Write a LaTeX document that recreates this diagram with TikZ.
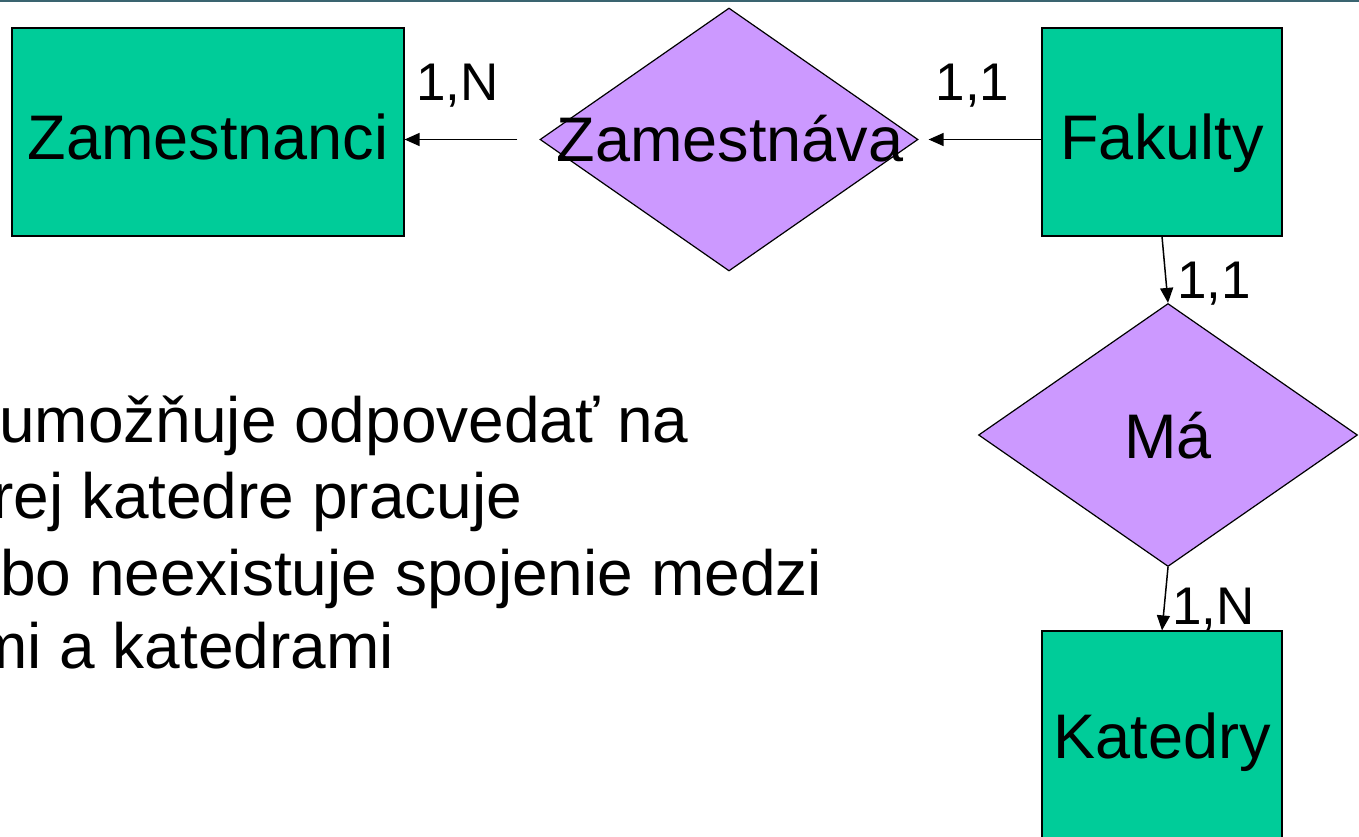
\documentclass[tikz,border=0pt]{standalone}
\usepackage{fontspec}
\setmainfont{Liberation Sans}
\usetikzlibrary{shapes.geometric,arrows.meta}
\definecolor{entgreen}{RGB}{0,204,153}
\definecolor{relpurple}{RGB}{204,153,255}
\definecolor{topteal}{RGB}{58,100,112}
\tikzset{
  entity/.style={draw=black, line width=1.2pt, fill=entgreen, rectangle, inner sep=0pt},
  relation/.style={draw=black, line width=1.2pt, fill=relpurple, diamond, inner sep=0pt},
  bigtext/.style={font=\fontsize{63}{75.6}\selectfont, inner sep=0pt, anchor=base},
  cardtext/.style={font=\fontsize{53}{64}\selectfont, inner sep=0pt, anchor=base},
  bodytext/.style={font=\fontsize{64}{76.8}\selectfont, inner sep=0pt, anchor=base west},
  conn/.style={line width=1.5pt, -{Triangle[length=15pt,width=13pt]}}
}
\begin{document}
\begin{tikzpicture}[x=1pt,y=-1pt]
\useasboundingbox (0,0) rectangle (1359,837);
\clip (0,0) rectangle (1359,837);
\fill[white] (0,0) rectangle (1359,837);
\draw[topteal, line width=2.5pt] (0,0.5) -- (1359,0.5);

% entities
\node[entity, minimum width=392pt, minimum height=208pt] (zam) at (208,132) {};
\node[entity, minimum width=240pt, minimum height=208pt] (fak) at (1162,132) {};
\node[entity, minimum width=240pt, minimum height=208pt] (kat) at (1162,735) {};

% relationships
\node[relation, minimum width=378pt, minimum height=263pt] (zv) at (729,139.5) {};
\node[relation, minimum width=379pt, minimum height=263pt] (ma) at (1168,435) {};

% labels
\node[bigtext] (zamlbl) at (208,160) {Zamestnanci};
\node[bigtext] (faklbl) at (1162,160) {Fakulty};
\node[bigtext] (katlbl) at (1162,758) {Katedry};
\node[bigtext] (zvlbl) at (730,162) {Zamestnáva};
\node[bigtext] (malbl) at (1168,458) {Má};

% connectors
\draw[conn, shorten <=22pt] (zv.west) -- (zam.east |- zv.west);
\draw[conn, shorten >=10pt] (fak.west |- zv.east) -- (zv.east);
\draw[conn] (fak.south) -- (ma.north);
\draw[conn] (ma.south) -- (kat.north);

% cardinalities
\node[cardtext] (c1) at (457.5,101) {1,N};
\node[cardtext] (c2) at (972.5,101) {1,1};
\node[cardtext] (c3) at (1214,298) {1,1};
\node[cardtext] (c4) at (1213.5,624) {1,N};

% body text
\node[bodytext] (t1) at (-1,442) {umožňuje odpovedať na};
\node[bodytext] (t2) at (-8,518) {rej katedre pracuje};
\node[bodytext] (t3) at (0,595) {bo neexistuje spojenie medzi};
\node[bodytext] (t4) at (-26,668) {mi a katedrami};
\end{tikzpicture}
\end{document}
